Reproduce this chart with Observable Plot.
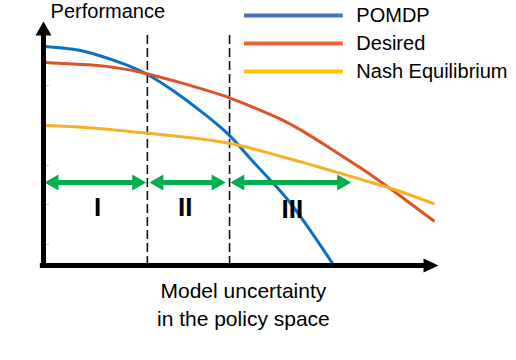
<!DOCTYPE html>
<html>
<head>
<meta charset="utf-8">
<script src="https://cdn.jsdelivr.net/npm/d3@7"></script>
<script src="https://cdn.jsdelivr.net/npm/@observablehq/plot@0.6"></script>
<style>
  html, body { margin: 0; padding: 0; background: #fff; }
  #chart { width: 516px; height: 360px; }
</style>
</head>
<body>
<div id="chart"></div>
<script>
// ---- data (abstract units: x = model uncertainty 0..100, y = performance 0..100) ----
const seriesNames = ["POMDP", "Desired", "Nash Equilibrium"];

const pomdpX = [0.5, 7.6, 14.4, 20.3, 26.3, 32.9, 39.7, 46.6, 49.9, 53.2, 57.5, 61.8, 67.6, 73.2];
const pomdpY = [90.1, 89.3, 86.4, 83.1, 79.0, 72.0, 63.8, 54.7, 48.6, 42.4, 35.0, 27.6, 14.4, 0.8];

const desiredX = [0.5, 11.9, 20.3, 26.3, 34.7, 41.5, 47.3, 53.2, 60.0, 66.8, 73.4, 80.3, 87.8, 98.7];
const desiredY = [83.5, 82.7, 81.1, 79.0, 75.3, 72.0, 69.1, 65.0, 60.5, 54.3, 47.3, 40.3, 31.7, 18.5];

const nashX = [0.5, 11.9, 24.6, 37.2, 47.3, 57.5, 65.8, 74.4, 82.8, 88.4, 98.7];
const nashY = [57.6, 56.8, 54.7, 52.7, 50.6, 46.1, 42.4, 38.3, 34.2, 31.7, 25.5];

const boundaries = [26.3, 47.1];
const regionLabels = ["I", "II", "III"];
const regionStart = [0.25, 26.8, 47.3];
const regionEnd = [26.0, 46.1, 77.9];
const regionLabelX = [13.7, 35.9, 63.0];
const regionLabelY = [23.9, 23.9, 22.9];
const arrowLevel = 34.2;

const yTickValues = [74.1, 57.6, 41.2, 25.1, 8.6];

const yAxisLabel = "Performance";
const xAxisLines = ["Model uncertainty", "in the policy space"];

// ---- styles ----
const curveColors = ["#0a70c2", "#dc5327", "#f3b221"];
const legendColors = ["#4472c4", "#ea6530", "#ffc000"];
const green = "#00b050";
const font = "'Liberation Sans', Arial, sans-serif";

const curves = [
  pomdpX.map((x, i) => ({series: seriesNames[0], x, y: pomdpY[i]})),
  desiredX.map((x, i) => ({series: seriesNames[1], x, y: desiredY[i]})),
  nashX.map((x, i) => ({series: seriesNames[2], x, y: nashY[i]}))
];

const legendRows = seriesNames.map((name, i) => ({name, color: legendColors[i], y: [102.9, 91.4, 79.8][i]}));

const regions = regionLabels.map((label, i) => ({
  label, x1: regionStart[i], x2: regionEnd[i], lx: regionLabelX[i], ly: regionLabelY[i]
}));

const xLabelRows = xAxisLines.map((text, i) => ({text, y: [-10.7, -22.2][i]}));

// custom filled arrowhead symbols (tip at origin, pointing right)
const headGreen = {draw(ctx) { ctx.moveTo(0, 0); ctx.lineTo(-14, -8); ctx.lineTo(-14, 8); ctx.closePath(); }};
const headAxisX = {draw(ctx) { ctx.moveTo(0, 0); ctx.lineTo(-15, -7); ctx.lineTo(-15, 7); ctx.closePath(); }};
const headAxisY = {draw(ctx) { ctx.moveTo(0, 0); ctx.lineTo(-14, -8); ctx.lineTo(-14, 8); ctx.closePath(); }};

const heads = [];
regions.forEach(r => {
  heads.push({x: r.x1, y: arrowLevel, rotate: 180});
  heads.push({x: r.x2, y: arrowLevel, rotate: 0});
});

const chart = Plot.plot({
  width: 516,
  height: 360,
  marginLeft: 43,
  marginRight: 78,
  marginTop: 22,
  marginBottom: 95,
  x: {domain: [0, 100], axis: null},
  y: {domain: [0, 100], axis: null},
  style: {background: "#fff", fontFamily: font, overflow: "visible"},
  marks: [
    // faint y ticks
    Plot.ruleY(yTickValues, {x1: 0.6, x2: 1.5, stroke: "#c8c8c8", strokeWidth: 1}),
    // dashed boundaries
    Plot.ruleX(boundaries, {y1: 0, y2: 94.7, stroke: "#111", strokeWidth: 1.6, strokeDasharray: "9,4"}),
    // curves
    ...curves.map((data, i) => Plot.line(data, {x: "x", y: "y", stroke: curveColors[i], strokeWidth: 3, curve: "basis"})),
    // green region arrows
    Plot.ruleY(regions, {y: arrowLevel, x1: d => d.x1 + 2, x2: d => d.x2 - 2, stroke: green, strokeWidth: 5}),
    Plot.dot(heads, {x: "x", y: "y", rotate: "rotate", symbol: headGreen, fill: green, stroke: "none"}),
    Plot.text(regions, {x: "lx", y: "ly", text: "label", fontSize: 26, fontWeight: "bold", fill: "#000", fontFamily: font}),
    // axes
    Plot.ruleX([0], {y1: -1, y2: 95.5, stroke: "#000", strokeWidth: 5}),
    Plot.ruleY([0], {x1: -0.8, x2: 97, stroke: "#000", strokeWidth: 5}),
    Plot.dot([{x: 0, y: 100.4}], {x: "x", y: "y", rotate: -90, symbol: headAxisY, fill: "#000", stroke: "none"}),
    Plot.dot([{x: 100, y: 0}], {x: "x", y: "y", rotate: 0, symbol: headAxisX, fill: "#000", stroke: "none"}),
    // axis labels
    Plot.text([yAxisLabel], {x: 1.8, y: 104.3, text: d => d, textAnchor: "start", fontSize: 20, fill: "#000", fontFamily: font}),
    Plot.text(xLabelRows, {x: 50.6, y: "y", text: "text", fontSize: 21, fill: "#000", fontFamily: font}),
    // legend
    Plot.ruleY(legendRows, {y: "y", x1: 50.9, x2: 75.9, stroke: "color", strokeWidth: 4}),
    Plot.text(legendRows, {x: 79.2, y: "y", text: "name", textAnchor: "start", fontSize: 20, fill: "#000", fontFamily: font})
  ]
});

document.getElementById("chart").appendChild(chart);
</script>
</body>
</html>
